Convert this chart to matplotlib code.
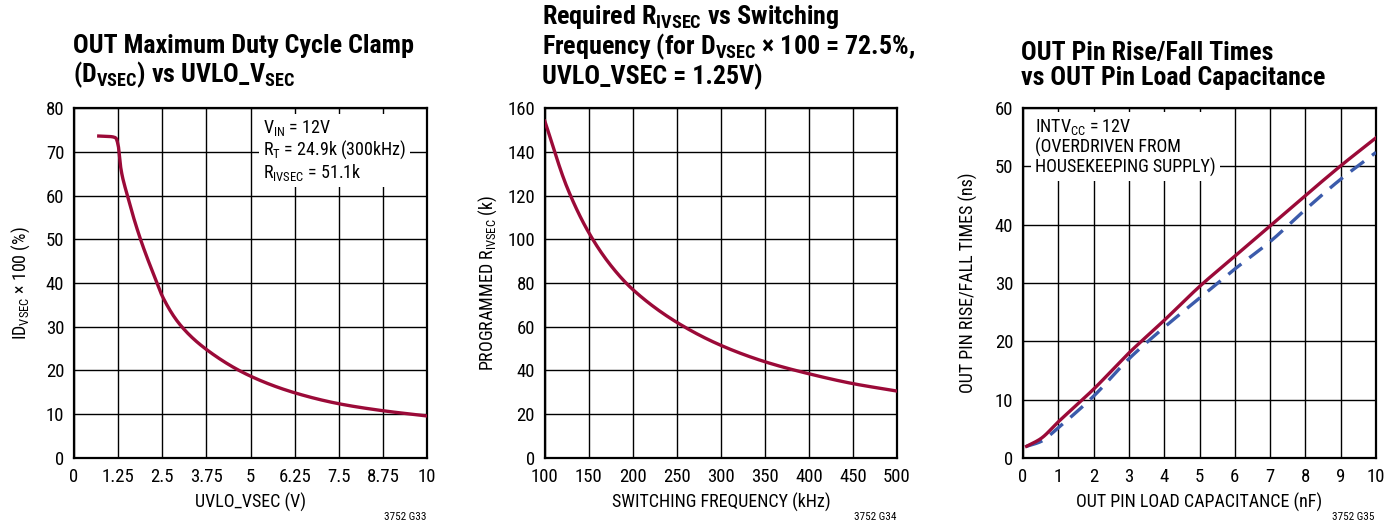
import matplotlib
matplotlib.use("Agg")
import matplotlib.pyplot as plt
from matplotlib import font_manager
import numpy as np

installed = set(f.name for f in font_manager.fontManager.ttflist)
candidates = ['Roboto Condensed', 'Archivo Narrow', 'PT Sans Narrow', 'Liberation Sans Narrow',
              'Fira Sans Condensed', 'IBM Plex Sans Condensed', 'Open Sans Condensed', 'Barlow Semi Condensed']
font_name = next((c for c in candidates if c in installed), 'DejaVu Sans')

plt.rcParams['font.family'] = [font_name, 'DejaVu Sans']
plt.rcParams['mathtext.fontset'] = 'custom'
plt.rcParams['mathtext.rm'] = font_name
plt.rcParams['mathtext.bf'] = font_name + ':bold'

fontsize_tick = 13.5
fontsize_label = 13
fontsize_title = 18.7
fontsize_note = 13

red = '#9b0a38'
blue = '#3b5bab'

# panel 1: duty cycle clamp vs UVLO_VSEC
uvlo_v = [0.7, 1.0, 1.18, 1.25, 1.33, 1.5, 1.87, 2.35, 2.5, 3.0, 3.75, 5.0, 6.25, 7.5, 8.75, 10.0]
duty = [73.6, 73.5, 73.2, 71.5, 66.0, 60.3, 50.3, 40.0, 37.0, 30.5, 24.8, 18.7, 14.9, 12.4, 10.8, 9.6]

# panel 2: required R_IVSEC vs switching frequency
freq_khz = [100, 125, 150, 175, 200, 250, 300, 350, 400, 450, 500]
r_ivsec = [154, 124, 103, 88, 77, 62, 51.5, 44, 38.5, 34, 30.6]

# panel 3: rise/fall times vs load capacitance
cap_nf = [0.1, 0.5, 1, 2, 3, 4, 5, 6, 7, 8, 9, 10]
rise_ns = [2.0, 3.3, 6.2, 11.8, 18.0, 23.6, 29.4, 34.6, 39.8, 45.0, 50.1, 54.9]
fall_ns = [2.0, 2.8, 5.2, 10.6, 17.0, 22.4, 27.4, 32.4, 37.1, 42.6, 47.8, 52.4]


def smooth(xs, ys, n=300):
    # monotone cubic (PCHIP-like) through the read points, for a smooth trace
    xs = np.asarray(xs, float)
    ys = np.asarray(ys, float)
    h = np.diff(xs)
    d = np.diff(ys) / h
    m = np.zeros_like(ys)
    m[0], m[-1] = d[0], d[-1]
    for i in range(1, len(xs) - 1):
        if d[i - 1] * d[i] > 0:
            w1 = 2 * h[i] + h[i - 1]
            w2 = h[i] + 2 * h[i - 1]
            m[i] = (w1 + w2) / (w1 / d[i - 1] + w2 / d[i])
    xn = np.linspace(xs[0], xs[-1], n)
    k = np.clip(np.searchsorted(xs, xn) - 1, 0, len(xs) - 2)
    t = (xn - xs[k]) / h[k]
    h00 = 2 * t**3 - 3 * t**2 + 1
    h10 = t**3 - 2 * t**2 + t
    h01 = -2 * t**3 + 3 * t**2
    h11 = t**3 - t**2
    yn = h00 * ys[k] + h10 * h[k] * m[k] + h01 * ys[k + 1] + h11 * h[k] * m[k + 1]
    return xn, yn


def style_axes(ax, xticks, yticks, xlabels=None):
    ax.set_xlim(xticks[0], xticks[-1])
    ax.set_ylim(yticks[0], yticks[-1])
    ax.set_xticks(xticks)
    ax.set_yticks(yticks)
    if xlabels is not None:
        ax.set_xticklabels(xlabels)
    ax.grid(True, color='black', linewidth=1.0)
    ax.set_axisbelow(True)
    ax.tick_params(length=0, labelsize=fontsize_tick, pad=7)
    for sp in ax.spines.values():
        sp.set_linewidth(1.6)


fig = plt.figure(figsize=(13.97, 5.27), dpi=100)

ax1 = fig.add_axes([0.053, 0.131, 0.2527, 0.664])
ax1.plot(*smooth(uvlo_v, duty), color=red, linewidth=2.4, zorder=3)
style_axes(ax1, np.arange(0, 10.01, 1.25), np.arange(0, 81, 10),
           ['0', '1.25', '2.5', '3.75', '5', '6.25', '7.5', '8.75', '10'])
ax1.set_xlabel('UVLO_VSEC (V)', fontsize=fontsize_label, labelpad=5)
ax1.set_ylabel(r'ID$_{\mathregular{VSEC}}$ × 100 (%)', fontsize=fontsize_label, labelpad=10)
ax1.text(5.35, 77.8, 'V$_{\\mathregular{IN}}$ = 12V\nR$_{\\mathregular{T}}$ = 24.9k (300kHz)\nR$_{\\mathregular{IVSEC}}$ = 51.1k',
         fontsize=fontsize_note, va='top', ha='left', linespacing=1.05,
         bbox=dict(facecolor='white', edgecolor='none', pad=3), zorder=4)
fig.text(0.052, 0.83, 'OUT Maximum Duty Cycle Clamp\n(D$_{\\mathbf{VSEC}}$) vs UVLO_V$_{\\mathbf{SEC}}$',
         fontsize=fontsize_title, fontweight='bold', va='bottom', ha='left', linespacing=1.05)
fig.text(0.305, 0.01, '3752 G33', fontsize=8, ha='right', va='bottom')

ax2 = fig.add_axes([0.390, 0.131, 0.252, 0.664])
ax2.plot(*smooth(freq_khz, r_ivsec), color=red, linewidth=2.4, zorder=3)
style_axes(ax2, np.arange(100, 501, 50), np.arange(0, 161, 20))
ax2.set_xlabel('SWITCHING FREQUENCY (kHz)', fontsize=fontsize_label, labelpad=5)
ax2.set_ylabel(r'PROGRAMMED R$_{\mathregular{IVSEC}}$ (k)', fontsize=fontsize_label, labelpad=6)
fig.text(0.388, 0.83, 'Required R$_{\\mathbf{IVSEC}}$ vs Switching\nFrequency (for D$_{\\mathbf{VSEC}}$ × 100 = 72.5%,\nUVLO_VSEC = 1.25V)',
         fontsize=fontsize_title, fontweight='bold', va='bottom', ha='left', linespacing=1.05)
fig.text(0.642, 0.01, '3752 G34', fontsize=8, ha='right', va='bottom')

ax3 = fig.add_axes([0.7323, 0.131, 0.2527, 0.664])
ax3.plot(*smooth(cap_nf, fall_ns), color=blue, linewidth=2.4, linestyle=(0, (5, 3)), zorder=3)
ax3.plot(*smooth(cap_nf, rise_ns), color=red, linewidth=2.4, zorder=3)
style_axes(ax3, np.arange(0, 11, 1), np.arange(0, 61, 10))
ax3.set_xlabel('OUT PIN LOAD CAPACITANCE (nF)', fontsize=fontsize_label, labelpad=5)
ax3.set_ylabel('OUT PIN RISE/FALL TIMES (ns)', fontsize=fontsize_label, labelpad=12)
ax3.text(0.35, 58.4, 'INTV$_{\\mathregular{CC}}$ = 12V\n(OVERDRIVEN FROM\nHOUSEKEEPING SUPPLY)',
         fontsize=fontsize_note, va='top', ha='left', linespacing=1.05,
         bbox=dict(facecolor='white', edgecolor='none', pad=3), zorder=4)
fig.text(0.731, 0.83, 'OUT Pin Rise/Fall Times\nvs OUT Pin Load Capacitance',
         fontsize=fontsize_title, fontweight='bold', va='bottom', ha='left', linespacing=1.05)
fig.text(0.984, 0.01, '3752 G35', fontsize=8, ha='right', va='bottom')

fig.savefig('out.png', dpi=100)
